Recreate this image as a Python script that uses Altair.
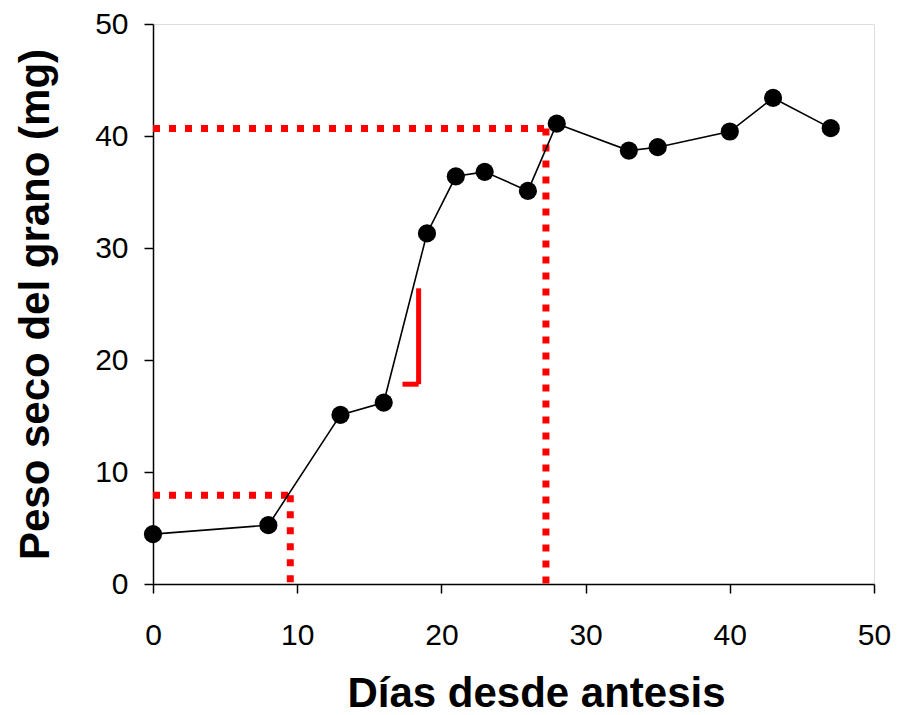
import altair as alt
import pandas as pd

# Data
dias = [0, 8, 13, 16, 19, 21, 23, 26, 28, 33, 35, 40, 43, 47]
peso = [4.45, 5.25, 15.1, 16.2, 31.3, 36.4, 36.8, 35.1, 41.1, 38.7, 39.0, 40.4, 43.4, 40.7]

# Red dotted guide segments (x1, y1, x2, y2)
dot_x1 = [0, 9.52, 0, 27.25]
dot_y1 = [7.92, 7.92, 40.66, 40.66]
dot_x2 = [9.52, 9.52, 27.25, 27.25]
dot_y2 = [7.92, 0, 40.66, 0]

# Red solid bracket segments
sol_x1 = [18.42, 17.3]
sol_y1 = [26.4, 17.84]
sol_x2 = [18.42, 18.42]
sol_y2 = [17.84, 17.84]

ticks = [0, 10, 20, 30, 40, 50]

df = pd.DataFrame({"dias": dias, "peso": peso})
dots = pd.DataFrame({"x1": dot_x1, "y1": dot_y1, "x2": dot_x2, "y2": dot_y2})
sol = pd.DataFrame({"x1": sol_x1, "y1": sol_y1, "x2": sol_x2, "y2": sol_y2})

xscale = alt.Scale(domain=[0, 50], nice=False, zero=False)
yscale = alt.Scale(domain=[0, 50], nice=False, zero=False)

W, H = 721, 560

common = dict(
    values=ticks, grid=False, tickSize=9, labelFontSize=30,
    titleFontSize=42, titleFontWeight="bold", labelFlush=False,
    domainColor="black", tickColor="black", labelColor="black", titleColor="black",
    domainWidth=1.5, tickWidth=1.5, labelFont="Liberation Sans", titleFont="Liberation Sans",
    titleBaseline="alphabetic", titleAlign="center", labelOverlap=False,
)

xaxis = alt.Axis(title="Días desde antesis", labelPadding=27,
                 titleX=383, titleY=122, **common)
yaxis = alt.Axis(title="Peso seco del grano (mg)", labelPadding=16,
                 titleX=-105, titleY=H / 2, **common)

red_dotted = alt.Chart(dots).mark_rule(
    color="#FF0000", strokeWidth=7, strokeDash=[7, 9], strokeCap="butt"
).encode(
    x=alt.X("x1:Q", scale=xscale, axis=xaxis),
    y=alt.Y("y1:Q", scale=yscale, axis=yaxis),
    x2="x2:Q", y2="y2:Q",
)

red_solid = alt.Chart(sol).mark_rule(
    color="#FF0000", strokeWidth=5
).encode(
    x=alt.X("x1:Q", scale=xscale),
    y=alt.Y("y1:Q", scale=yscale),
    x2="x2:Q", y2="y2:Q",
)

line = alt.Chart(df).mark_line(color="black", strokeWidth=1.6).encode(
    x=alt.X("dias:Q", scale=xscale),
    y=alt.Y("peso:Q", scale=yscale),
)

points = alt.Chart(df).mark_point(
    filled=True, color="black", size=330, opacity=1, shape="circle"
).encode(
    x=alt.X("dias:Q", scale=xscale),
    y=alt.Y("peso:Q", scale=yscale),
)

chart = alt.layer(red_dotted, red_solid, line, points).properties(
    width=W, height=H,
    autosize=alt.AutoSizeParams(type="none"),
    padding={"left": 145, "top": 16, "right": 19, "bottom": 131},
).configure_view(
    stroke="black", strokeWidth=1.5
).configure(background="white")

chart.save("out.html", embed_options={"renderer": "svg", "actions": False})
